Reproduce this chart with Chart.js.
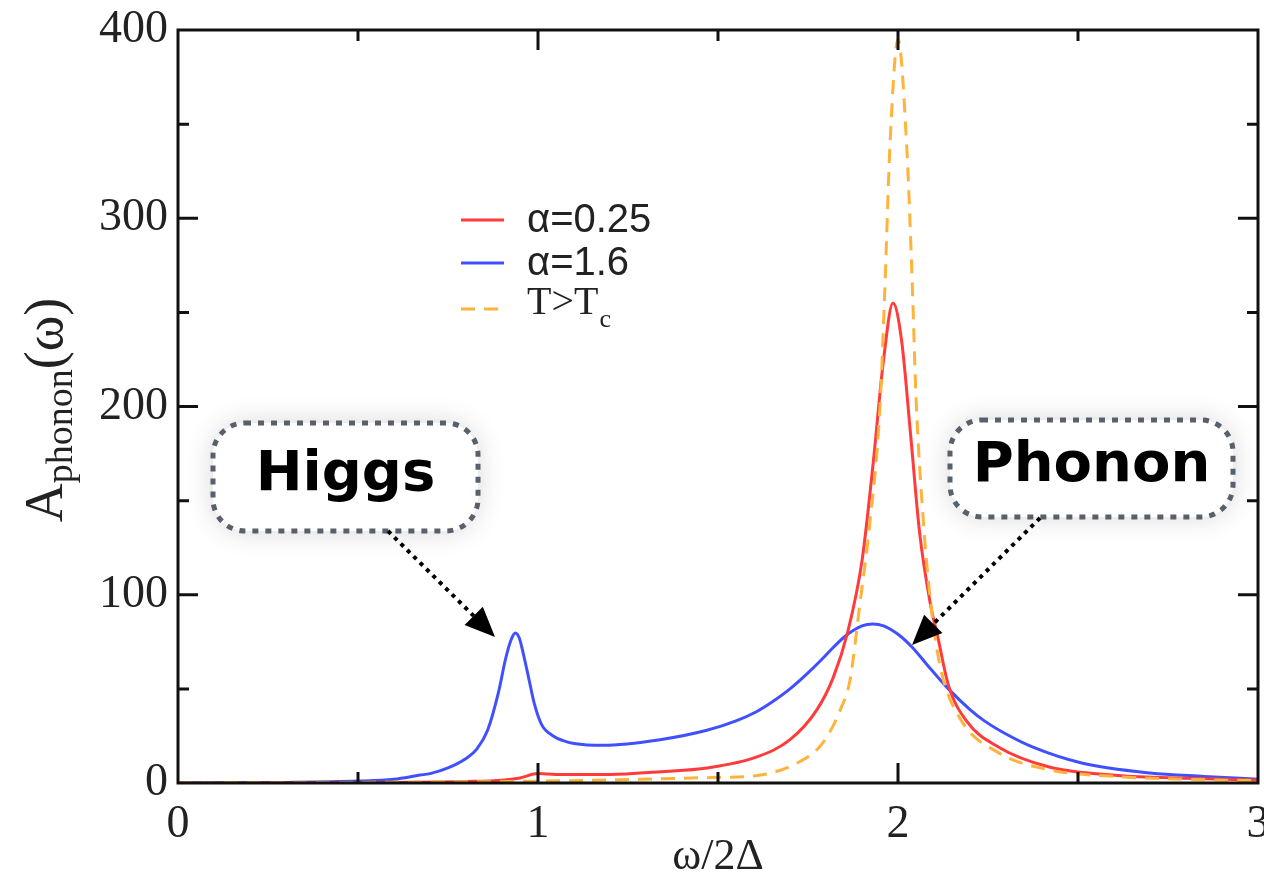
<!DOCTYPE html>
<html>
<head>
<meta charset="utf-8">
<script src="https://cdn.jsdelivr.net/npm/chart.js@4.4.1/dist/chart.umd.min.js"></script>
<style>
  html, body { margin: 0; padding: 0; background: #fff; }
  #wrap { width: 1264px; height: 878px; }
</style>
</head>
<body>
<div id="wrap"><canvas id="phononChart" width="1264" height="878"></canvas></div>
<script>
// values (x = omega / 2 Delta)
const redX = [0, 0.5, 0.8, 0.9, 0.95, 1.0, 1.05, 1.2, 1.34, 1.47, 1.61, 1.7, 1.775, 1.82, 1.86, 1.9, 1.93, 1.96, 1.986, 2.01, 2.035, 2.06, 2.09, 2.11, 2.14, 2.19, 2.28, 2.42, 2.61, 2.8, 3.0];
const redY = [0, 0.2, 0.8, 1.5, 2.7, 5, 4.5, 4.5, 6, 8, 14, 23, 39, 56, 80, 118, 168, 225, 255, 235, 185, 133, 95, 78, 52, 33, 19, 8.5, 4, 2.5, 1.5];

const blueX = [0, 0.3, 0.5, 0.6, 0.672, 0.7, 0.75, 0.8, 0.83, 0.86, 0.89, 0.91, 0.925, 0.937, 0.948, 0.96, 0.975, 0.99, 1.01, 1.042, 1.07, 1.1, 1.18, 1.339, 1.469, 1.55, 1.608, 1.65, 1.7, 1.75, 1.79, 1.82, 1.86, 1.9, 1.93, 1.96, 2.0, 2.04, 2.08, 2.14, 2.2, 2.24, 2.3, 2.375, 2.51, 2.7, 2.85, 3.0];
const blueY = [0, 0.3, 1, 2, 4.2, 5, 8, 13, 18, 28, 48, 66, 76, 79.7, 77, 68, 55, 42, 31, 25, 22.5, 21, 20, 23, 28, 33, 38, 43, 50, 58.5, 66, 72, 79, 83.5, 84.5, 83.5, 79, 72, 63, 50, 39, 33, 26, 19, 10.6, 5.3, 3.5, 2];

const orangeX = [0, 0.5, 1.0, 1.5, 1.61, 1.72, 1.79, 1.84, 1.867, 1.894, 1.92, 1.95, 1.963, 1.978, 2.0, 2.025, 2.04, 2.05, 2.07, 2.09, 2.117, 2.17, 2.28, 2.42, 2.6, 2.8, 3.0];
const orangeY = [0, 0.3, 1, 3, 4, 10.6, 21, 39, 55, 95, 135, 200, 260, 340, 395, 335, 263, 205, 140, 97, 62, 35, 16, 7, 3.5, 2, 1.2];

const seriesLabels = ['\u03b1=0.25', '\u03b1=1.6', 'T>T'];
const xTickValues = [0, 1, 2, 3];
const yTickValues = [0, 100, 200, 300, 400];
const xTickMarks = [0.5, 1, 1.5, 2, 2.5];
const yTickMarks = [50, 100, 150, 200, 250, 300, 350];

const toPoints = (xs, ys) => xs.map((x, i) => ({ x: x, y: ys[i] }));

const RED = '#ff3b3b';
const BLUE = '#4050ff';
const ORANGE = '#ffb33a';

// frame with inward ticks on all four sides
const frameTicks = {
    id: 'frameTicks',
    afterDatasetsDraw(chart) {
        const { ctx, chartArea: a, scales: { x, y } } = chart;
        ctx.save();
        ctx.strokeStyle = '#111';
        ctx.lineWidth = 3;
        ctx.strokeRect(a.left, a.top, a.right - a.left, a.bottom - a.top);
        xTickMarks.forEach(v => {
            const px = x.getPixelForValue(v);
            const len = Number.isInteger(v) ? 20 : 11;
            ctx.beginPath();
            ctx.moveTo(px, a.bottom); ctx.lineTo(px, a.bottom - len);
            ctx.moveTo(px, a.top); ctx.lineTo(px, a.top + len);
            ctx.stroke();
        });
        yTickMarks.forEach(v => {
            const py = y.getPixelForValue(v);
            const len = v % 100 === 0 ? 20 : 11;
            ctx.beginPath();
            ctx.moveTo(a.left, py); ctx.lineTo(a.left + len, py);
            ctx.moveTo(a.right, py); ctx.lineTo(a.right - len, py);
            ctx.stroke();
        });
        ctx.restore();
    }
};

function roundRect(ctx, x, y, w, h, r) {
    ctx.beginPath();
    ctx.moveTo(x + r, y);
    ctx.arcTo(x + w, y, x + w, y + h, r);
    ctx.arcTo(x + w, y + h, x, y + h, r);
    ctx.arcTo(x, y + h, x, y, r);
    ctx.arcTo(x, y, x + w, y, r);
    ctx.closePath();
}

function callout(ctx, box, text, from, to) {
    ctx.save();
    ctx.shadowColor = 'rgba(0,0,0,0.16)';
    ctx.shadowBlur = 28;
    ctx.fillStyle = '#fff';
    roundRect(ctx, box.x, box.y, box.w, box.h, 32);
    ctx.fill();
    ctx.shadowColor = 'transparent';
    ctx.setLineDash([6, 7]);
    ctx.lineWidth = 5;
    ctx.strokeStyle = '#58606b';
    roundRect(ctx, box.x, box.y, box.w, box.h, 32);
    ctx.stroke();
    ctx.fillStyle = '#000';
    ctx.font = 'bold 56px "DejaVu Sans"';
    ctx.textAlign = 'center';
    ctx.textBaseline = 'middle';
    ctx.fillText(text, box.x + box.w / 2, box.y + box.h / 2 - 2);

    // dotted arrow
    const ang = Math.atan2(to[1] - from[1], to[0] - from[0]);
    const headLen = 30, headW = 13;
    const bx = to[0] - headLen * Math.cos(ang), by = to[1] - headLen * Math.sin(ang);
    ctx.setLineDash([4, 5]);
    ctx.lineWidth = 4;
    ctx.strokeStyle = '#000';
    ctx.beginPath();
    ctx.moveTo(from[0], from[1]);
    ctx.lineTo(bx, by);
    ctx.stroke();
    ctx.setLineDash([]);
    ctx.beginPath();
    ctx.moveTo(to[0], to[1]);
    ctx.lineTo(bx + headW * Math.sin(ang), by - headW * Math.cos(ang));
    ctx.lineTo(bx - headW * Math.sin(ang), by + headW * Math.cos(ang));
    ctx.closePath();
    ctx.fill();
    ctx.restore();
}

const extras = {
    id: 'extras',
    afterDraw(chart) {
        const ctx = chart.ctx;
        ctx.save();

        // legend
        const rows = [
            { y: 220, color: RED, dash: [] },
            { y: 263, color: BLUE, dash: [] },
            { y: 309, color: ORANGE, dash: [14, 9] }
        ];
        rows.forEach(r => {
            ctx.strokeStyle = r.color;
            ctx.lineWidth = 3;
            ctx.setLineDash(r.dash);
            ctx.beginPath();
            ctx.moveTo(461, r.y); ctx.lineTo(504, r.y);
            ctx.stroke();
        });
        ctx.setLineDash([]);
        ctx.fillStyle = '#222';
        ctx.textBaseline = 'middle';
        ctx.textAlign = 'left';
        ctx.font = '40px "Liberation Sans"';
        ctx.fillText(seriesLabels[0], 527, 221);
        ctx.fillText(seriesLabels[1], 527, 264);
        ctx.font = '40px "Liberation Serif"';
        ctx.fillText(seriesLabels[2], 527, 303);
        const tw = ctx.measureText(seriesLabels[2]).width;
        ctx.font = '26px "Liberation Serif"';
        ctx.fillText('c', 527 + tw + 1, 320);

        // x axis title
        ctx.font = '44px "Liberation Serif"';
        ctx.textAlign = 'center';
        ctx.fillText('\u03c9/2\u0394', 718, 857);

        // y axis title with subscript, rotated
        ctx.translate(48, 410);
        ctx.rotate(-Math.PI / 2);
        ctx.textAlign = 'left';
        const parts = [
            { t: 'A', f: '54px "Liberation Serif"', dy: 0 },
            { t: 'phonon', f: '38px "Liberation Serif"', dy: 14 },
            { t: '(\u03c9)', f: '54px "Liberation Serif"', dy: 0 }
        ];
        let total = 0;
        parts.forEach(p => { ctx.font = p.f; p.w = ctx.measureText(p.t).width; total += p.w; });
        let cx = -total / 2;
        parts.forEach(p => {
            ctx.font = p.f;
            ctx.fillText(p.t, cx, p.dy);
            cx += p.w;
        });
        ctx.restore();

        // annotations
        callout(ctx, { x: 213, y: 423, w: 265, h: 108 }, 'Higgs', [388, 531], [495, 637]);
        callout(ctx, { x: 950, y: 420, w: 283, h: 97 }, 'Phonon', [1040, 518], [912, 645]);
    }
};

const canvas = document.getElementById('phononChart');

new Chart(canvas, {
    type: 'line',
    data: {
        datasets: [
            {
                label: seriesLabels[2],
                data: toPoints(orangeX, orangeY),
                borderColor: ORANGE,
                borderWidth: 3,
                borderDash: [14, 9],
                pointRadius: 0,
                cubicInterpolationMode: 'monotone',
                fill: false
            },
            {
                label: seriesLabels[0],
                data: toPoints(redX, redY),
                borderColor: RED,
                borderWidth: 3,
                pointRadius: 0,
                cubicInterpolationMode: 'monotone',
                fill: false
            },
            {
                label: seriesLabels[1],
                data: toPoints(blueX, blueY),
                borderColor: BLUE,
                borderWidth: 3,
                pointRadius: 0,
                cubicInterpolationMode: 'monotone',
                fill: false
            }
        ]
    },
    options: {
        responsive: false,
        maintainAspectRatio: false,
        animation: false,
        layout: { padding: { top: 30, right: 6, left: 0, bottom: 0 } },
        plugins: {
            legend: { display: false },
            tooltip: { enabled: false }
        },
        scales: {
            x: {
                type: 'linear',
                min: 0,
                max: 3,
                grid: { display: false, drawTicks: false },
                border: { display: false },
                afterBuildTicks: s => { s.ticks = xTickValues.map(v => ({ value: v })); },
                afterFit: s => { s.height = 95; s.paddingLeft = 0; s.paddingRight = 0; },
                ticks: {
                    padding: 14,
                    color: '#222',
                    maxRotation: 0,
                    font: { family: 'Liberation Serif', size: 46 }
                }
            },
            y: {
                min: 0,
                max: 400,
                grid: { display: false, drawTicks: false },
                border: { display: false },
                afterBuildTicks: s => { s.ticks = yTickValues.map(v => ({ value: v })); },
                afterFit: s => { s.width = 178; s.paddingTop = 0; s.paddingBottom = 0; },
                ticks: {
                    padding: 10,
                    color: '#222',
                    font: { family: 'Liberation Serif', size: 46 }
                }
            }
        }
    },
    plugins: [frameTicks, extras]
});
</script>
</body>
</html>
